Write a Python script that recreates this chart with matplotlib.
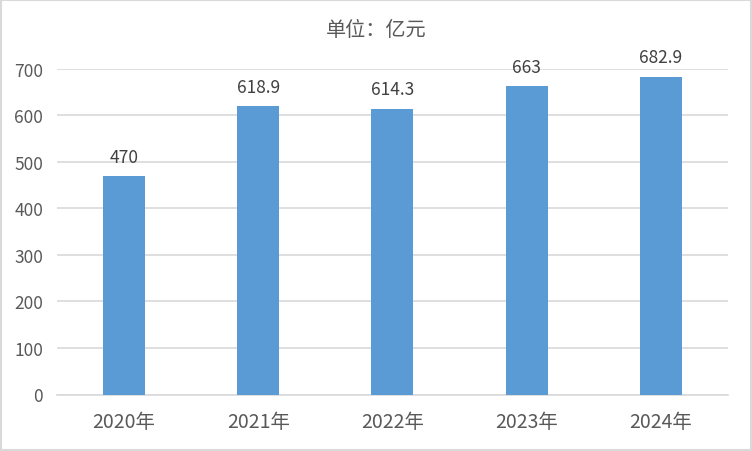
import matplotlib
matplotlib.use("Agg")
import matplotlib.pyplot as plt
from matplotlib.patches import Rectangle

plt.rcParams['font.family'] = ['Noto Sans CJK SC', 'DejaVu Sans']

categories = ["2020年", "2021年", "2022年", "2023年", "2024年"]
values = [470, 618.9, 614.3, 663, 682.9]
labels = ["470", "618.9", "614.3", "663", "682.9"]
yticks = [0, 100, 200, 300, 400, 500, 600, 700]
title = "单位：亿元"

fig = plt.figure(figsize=(7.52, 4.52), dpi=100)
ax = fig.add_axes([0.0758, 0.125, 0.892, 0.7208])

x = list(range(len(categories)))
ax.bar(x, values, width=0.313, color="#5B9BD5", zorder=3)
for xi, v, lab in zip(x, values, labels):
    ax.text(xi, v + 22, lab, ha="center", va="bottom", fontsize=12.5, color="#404040")

ax.set_xlim(-0.5, len(categories) - 0.5)
ax.set_ylim(0, 700)
ax.set_yticks(yticks)
ax.set_xticks(x)
ax.set_xticklabels(categories, fontsize=14)
ax.yaxis.grid(True, color="#d9d9d9", linewidth=1.2, zorder=0)
ax.set_axisbelow(True)
for s in ["left", "right", "top"]:
    ax.spines[s].set_visible(False)
ax.spines["bottom"].set_color("#d9d9d9")
ax.spines["bottom"].set_linewidth(1.2)
ax.tick_params(axis="both", length=0, colors="#595959")
ax.tick_params(axis="y", pad=10, labelsize=12.5)
ax.tick_params(axis="x", pad=12)

fig.text(0.5, 0.932, title, ha="center", va="center", fontsize=14.5, color="#595959")

fig.patches.append(Rectangle((0.0015, 0.0025), 0.997, 0.995, transform=fig.transFigure,
                             fill=False, edgecolor="#d9d9d9", linewidth=1.5))

fig.savefig("out.png", dpi=100)
